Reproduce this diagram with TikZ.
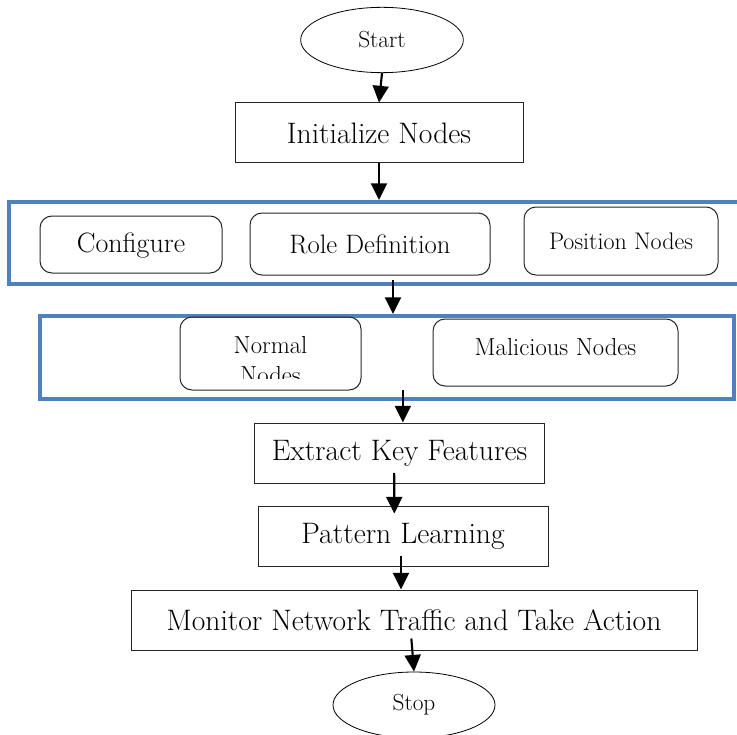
\documentclass[tikz,border=0pt]{standalone}
\usepackage{amsmath}
\usepackage{tikz}
\usetikzlibrary{arrows.meta,shapes.geometric}
\definecolor{frameblue}{HTML}{4F81BD}
\tikzset{
  box/.style={shape=rectangle,draw=black!85,line width=0.75pt,inner sep=0pt,font=\fontsize{22.2}{26}\selectfont},
  rbox/.style={shape=rectangle,rounded corners=9pt,draw=black!85,line width=0.75pt,inner sep=0pt},
  oval/.style={shape=ellipse,draw=black,line width=0.6pt,inner sep=0pt,font=\fontsize{17.5}{20}\selectfont},
  frame/.style={shape=rectangle,draw=frameblue,line width=3pt,inner sep=0pt},
  arr/.style={-{Triangle[length=12.5pt,width=12pt]},line width=1.6pt}
}

\begin{document}
\begin{tikzpicture}[x=0.75pt,y=-0.75pt]
                \useasboundingbox (0,0) rectangle (737,734);
                \node[oval,minimum width=122pt,minimum height=49pt] (A) at (382,40) {Start};
                \node[box,minimum width=216pt,minimum height=45pt] (B) at (379,133) {Initialize Nodes};

                \node[frame,minimum width=552pt,minimum height=61.5pt] (C) at (377,243) {};
                \node[rbox,minimum width=136.5pt,minimum height=42.75pt,text depth=3pt,font=\fontsize{21}{24}\selectfont] (C1) at (131,244.5) {Configure};
                \node[rbox,minimum width=180pt,minimum height=46.5pt,font=\fontsize{20}{24}\selectfont] (C2) at (370,244) {Role Definition};
                \node[rbox,minimum width=145.5pt,minimum height=51pt,font=\fontsize{18}{22}\selectfont] (C3) at (621,241) {Position Nodes};

                \node[frame,minimum width=520.5pt,minimum height=62.25pt] (D) at (387,357.5) {};
                \node[rbox,minimum width=135.75pt,minimum height=54.75pt] (D1) at (270.5,353.5) {};
                \begin{scope}
                \clip (180,317) rectangle (361,378);
                \node[align=center,font=\fontsize{18.5}{22.5}\selectfont] (D1T) at (270.5,360) {Normal\\Nodes};
                \end{scope}
                \node[rbox,minimum width=183.75pt,minimum height=50.25pt,text depth=9pt,font=\fontsize{18.5}{22}\selectfont] (D2) at (555.5,352.5) {Malicious Nodes};

                \node[box,minimum width=217.5pt,minimum height=45pt] (E) at (399.5,453) {Extract Key Features};
                \node[box,minimum width=217.5pt,minimum height=45pt] (F) at (403,536) {Pattern Learning};
                \node[box,minimum width=424.5pt,minimum height=45pt] (G) at (414,620) {Monitor Network Traffic and Take Action};
                \node[oval,minimum width=121.5pt,minimum height=49.5pt] (H) at (414,705) {Stop};

                \draw[arr] (A.south) -- (B.north);
                \draw[arr] (B.south) -- (B.south |- C.north);
                \draw[arr] ([xshift=4.5pt,yshift=4.5pt]D.north |- C.south) -- ([xshift=4.5pt]D.north);
                \draw[arr] ([xshift=2.5pt,yshift=8pt]E.north |- D.south) -- ([xshift=2.5pt]E.north);
                \draw[arr] ([xshift=-4pt,yshift=8pt]E.south) -- ([xshift=-6.5pt,yshift=-6pt]F.north);
                \draw[arr] ([xshift=-1.5pt,yshift=8pt]F.south) -- ([xshift=-9.75pt]G.north);
                \draw[arr] ([xshift=-2pt,yshift=9pt]G.south) -- (H.north);
            \end{tikzpicture}
\end{document}
